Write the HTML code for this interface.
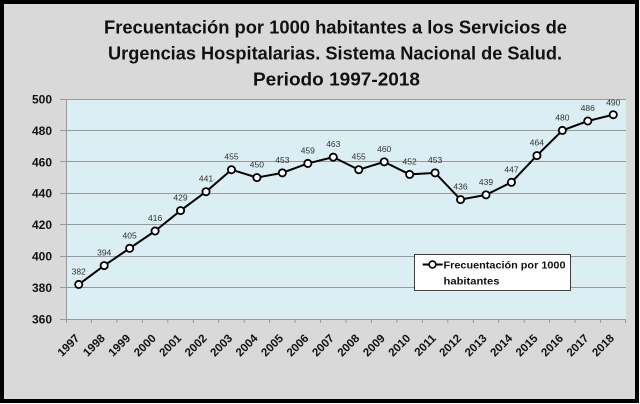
<!DOCTYPE html>
<html>
<head>
<meta charset="utf-8">
<style>
html,body{margin:0;padding:0;background:#ffffff;}
svg{display:block;}
text{font-family:"Liberation Sans",Arial,sans-serif;}
</style>
</head>
<body>
<svg width="640" height="404" viewBox="0 0 640 404" xmlns="http://www.w3.org/2000/svg">
  <rect x="0" y="0" width="640" height="404" fill="#ffffff"/>
  <rect x="2" y="2" width="635" height="399" fill="#d9d9d9" stroke="#000" stroke-width="4"/>

  <!-- Title -->
  <g font-weight="bold" font-size="18" fill="#111" text-anchor="start">
    <text x="104" y="33.5" textLength="463" lengthAdjust="spacingAndGlyphs">Frecuentación por 1000 habitantes a los Servicios de</text>
    <text x="108" y="59.5" textLength="454" lengthAdjust="spacingAndGlyphs">Urgencias Hospitalarias. Sistema Nacional de Salud.</text>
    <text x="253" y="85.7" textLength="167" lengthAdjust="spacingAndGlyphs">Periodo 1997-2018</text>
  </g>

  <!-- Plot area -->
  <rect x="66" y="99" width="560" height="220" fill="#daeef3"/>

  <!-- Gridlines -->
  <g stroke="#999" stroke-width="1">
    <line x1="60" y1="99.5" x2="626" y2="99.5"/>
    <line x1="60" y1="130.5" x2="626" y2="130.5"/>
    <line x1="60" y1="161.5" x2="626" y2="161.5"/>
    <line x1="60" y1="193.5" x2="626" y2="193.5"/>
    <line x1="60" y1="224.5" x2="626" y2="224.5"/>
    <line x1="60" y1="256.5" x2="626" y2="256.5"/>
    <line x1="60" y1="287.5" x2="626" y2="287.5"/>
    <line x1="60" y1="319.5" x2="626" y2="319.5"/>
    <line x1="66.5" y1="99" x2="66.5" y2="319"/>
  </g>
  <!-- X ticks -->
  <g stroke="#999" stroke-width="1">
    <line x1="66.5" y1="319" x2="66.5" y2="323"/>
    <line x1="91.5" y1="319" x2="91.5" y2="323"/>
    <line x1="116.9" y1="319" x2="116.9" y2="323"/>
    <line x1="142.4" y1="319" x2="142.4" y2="323"/>
    <line x1="167.8" y1="319" x2="167.8" y2="323"/>
    <line x1="193.3" y1="319" x2="193.3" y2="323"/>
    <line x1="218.7" y1="319" x2="218.7" y2="323"/>
    <line x1="244.2" y1="319" x2="244.2" y2="323"/>
    <line x1="269.6" y1="319" x2="269.6" y2="323"/>
    <line x1="295.1" y1="319" x2="295.1" y2="323"/>
    <line x1="320.5" y1="319" x2="320.5" y2="323"/>
    <line x1="346.0" y1="319" x2="346.0" y2="323"/>
    <line x1="371.5" y1="319" x2="371.5" y2="323"/>
    <line x1="396.9" y1="319" x2="396.9" y2="323"/>
    <line x1="422.4" y1="319" x2="422.4" y2="323"/>
    <line x1="447.8" y1="319" x2="447.8" y2="323"/>
    <line x1="473.3" y1="319" x2="473.3" y2="323"/>
    <line x1="498.7" y1="319" x2="498.7" y2="323"/>
    <line x1="524.2" y1="319" x2="524.2" y2="323"/>
    <line x1="549.6" y1="319" x2="549.6" y2="323"/>
    <line x1="575.1" y1="319" x2="575.1" y2="323"/>
    <line x1="600.5" y1="319" x2="600.5" y2="323"/>
    <line x1="625.5" y1="319" x2="625.5" y2="323"/>
  </g>

  <!-- Y labels -->
  <g font-weight="bold" font-size="12" fill="#111" text-anchor="end">
    <text x="52" y="103.5">500</text>
    <text x="52" y="134.9">480</text>
    <text x="52" y="166.3">460</text>
    <text x="52" y="197.7">440</text>
    <text x="52" y="229.1">420</text>
    <text x="52" y="260.6">400</text>
    <text x="52" y="292.0">380</text>
    <text x="52" y="323.4">360</text>
  </g>

  <!-- X labels -->
  <g font-weight="bold" font-size="11.5" fill="#111" text-anchor="end">
    <text transform="translate(80.2,339) rotate(-45)">1997</text>
    <text transform="translate(105.7,339) rotate(-45)">1998</text>
    <text transform="translate(131.1,339) rotate(-45)">1999</text>
    <text transform="translate(156.6,339) rotate(-45)">2000</text>
    <text transform="translate(182.0,339) rotate(-45)">2001</text>
    <text transform="translate(207.5,339) rotate(-45)">2002</text>
    <text transform="translate(233.0,339) rotate(-45)">2003</text>
    <text transform="translate(258.4,339) rotate(-45)">2004</text>
    <text transform="translate(283.9,339) rotate(-45)">2005</text>
    <text transform="translate(309.3,339) rotate(-45)">2006</text>
    <text transform="translate(334.8,339) rotate(-45)">2007</text>
    <text transform="translate(360.2,339) rotate(-45)">2008</text>
    <text transform="translate(385.7,339) rotate(-45)">2009</text>
    <text transform="translate(411.1,339) rotate(-45)">2010</text>
    <text transform="translate(436.6,339) rotate(-45)">2011</text>
    <text transform="translate(462.0,339) rotate(-45)">2012</text>
    <text transform="translate(487.5,339) rotate(-45)">2013</text>
    <text transform="translate(513.0,339) rotate(-45)">2014</text>
    <text transform="translate(538.4,339) rotate(-45)">2015</text>
    <text transform="translate(563.9,339) rotate(-45)">2016</text>
    <text transform="translate(589.3,339) rotate(-45)">2017</text>
    <text transform="translate(614.8,339) rotate(-45)">2018</text>
  </g>

  <!-- Series line -->
  <polyline fill="none" stroke="#000" stroke-width="2" stroke-linejoin="round"
    points="78.73,284.43 104.18,265.57 129.64,248.29 155.09,231.0 180.55,210.57 206.0,191.71 231.45,169.71 256.91,177.57 282.36,172.86 307.82,163.43 333.27,157.14 358.73,169.71 384.18,161.86 409.64,174.43 435.09,172.86 460.55,199.57 486.0,194.86 511.45,182.29 536.91,155.57 562.36,130.43 587.82,121.0 613.27,114.71"/>

  <!-- Markers -->
  <g fill="#fff" stroke="#000" stroke-width="1.8">
    <circle cx="78.73" cy="284.43" r="3.6"/>
    <circle cx="104.18" cy="265.57" r="3.6"/>
    <circle cx="129.64" cy="248.29" r="3.6"/>
    <circle cx="155.09" cy="231.0" r="3.6"/>
    <circle cx="180.55" cy="210.57" r="3.6"/>
    <circle cx="206.0" cy="191.71" r="3.6"/>
    <circle cx="231.45" cy="169.71" r="3.6"/>
    <circle cx="256.91" cy="177.57" r="3.6"/>
    <circle cx="282.36" cy="172.86" r="3.6"/>
    <circle cx="307.82" cy="163.43" r="3.6"/>
    <circle cx="333.27" cy="157.14" r="3.6"/>
    <circle cx="358.73" cy="169.71" r="3.6"/>
    <circle cx="384.18" cy="161.86" r="3.6"/>
    <circle cx="409.64" cy="174.43" r="3.6"/>
    <circle cx="435.09" cy="172.86" r="3.6"/>
    <circle cx="460.55" cy="199.57" r="3.6"/>
    <circle cx="486.0" cy="194.86" r="3.6"/>
    <circle cx="511.45" cy="182.29" r="3.6"/>
    <circle cx="536.91" cy="155.57" r="3.6"/>
    <circle cx="562.36" cy="130.43" r="3.6"/>
    <circle cx="587.82" cy="121.0" r="3.6"/>
    <circle cx="613.27" cy="114.71" r="3.6"/>
  </g>

  <!-- Data labels -->
  <g font-size="8.5" fill="#333" text-anchor="middle">
    <text x="78.7" y="274.4">382</text>
    <text x="104.2" y="255.6">394</text>
    <text x="129.6" y="238.3">405</text>
    <text x="155.1" y="221.0">416</text>
    <text x="180.5" y="200.6">429</text>
    <text x="206.0" y="181.7">441</text>
    <text x="231.5" y="159.7">455</text>
    <text x="256.9" y="167.6">450</text>
    <text x="282.4" y="162.9">453</text>
    <text x="307.8" y="153.4">459</text>
    <text x="333.3" y="147.1">463</text>
    <text x="358.7" y="159.7">455</text>
    <text x="384.2" y="151.9">460</text>
    <text x="409.6" y="164.4">452</text>
    <text x="435.1" y="162.9">453</text>
    <text x="460.5" y="189.6">436</text>
    <text x="486.0" y="184.9">439</text>
    <text x="511.5" y="172.3">447</text>
    <text x="536.9" y="145.6">464</text>
    <text x="562.4" y="120.4">480</text>
    <text x="587.8" y="111.0">486</text>
    <text x="613.3" y="105.5">490</text>
  </g>

  <!-- Legend -->
  <rect x="414.5" y="254.5" width="156" height="36" fill="#fff" stroke="#404040" stroke-width="1"/>
  <line x1="422.7" y1="264.5" x2="442.7" y2="264.5" stroke="#000" stroke-width="2"/>
  <circle cx="432.5" cy="264.5" r="3.4" fill="#fff" stroke="#000" stroke-width="1.6"/>
  <g font-weight="bold" font-size="10.5" fill="#111">
    <text x="443.5" y="268.3" textLength="122" lengthAdjust="spacingAndGlyphs">Frecuentación por 1000</text>
    <text x="443.5" y="284.3" textLength="56" lengthAdjust="spacingAndGlyphs">habitantes</text>
  </g>
</svg>
</body>
</html>
